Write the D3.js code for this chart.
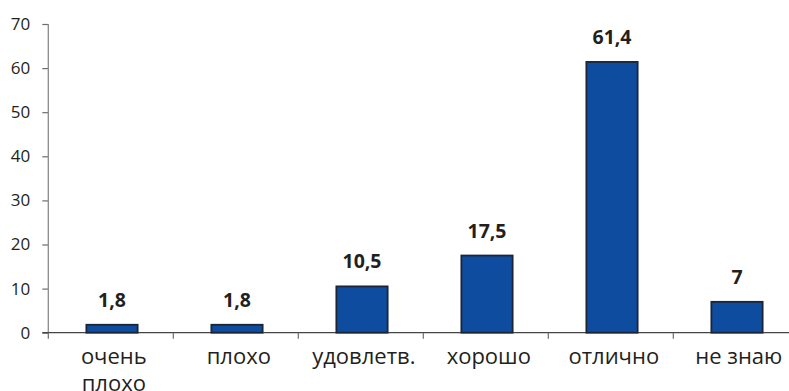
<!DOCTYPE html>
<html>
<head>
<meta charset="utf-8">
<script src="https://cdn.jsdelivr.net/npm/d3@7"></script>
<style>
  html, body { margin: 0; padding: 0; background: #fff; }
  svg { display: block; }
  text { font-family: "Open Sans", "Noto Sans", sans-serif; fill: #231f20; }
</style>
</head>
<body>
<svg id="chart" width="789" height="391"></svg>
<script>
// Survey answers and their shares, %
const categories = ["очень плохо", "плохо", "удовлетв.", "хорошо", "отлично", "не знаю"];
const values = [1.8, 1.8, 10.5, 17.5, 61.4, 7];
const valueLabels = ["1,8", "1,8", "10,5", "17,5", "61,4", "7"];
const yTicks = [0, 10, 20, 30, 40, 50, 60, 70];

const svg = d3.select("#chart");
const plotLeft = 48.3, plotRight = 798.3, plotTop = 24, plotBottom = 332.7;

const x = d3.scaleBand().domain(categories).range([plotLeft, plotRight])
  .paddingInner(0.59).paddingOuter(0.295);
const y = d3.scaleLinear().domain([0, 70]).range([plotBottom, plotTop]);

// Y axis
const yAxis = svg.append("g").attr("transform", `translate(${plotLeft},0)`)
  .call(d3.axisLeft(y).tickValues(yTicks).tickSize(6).tickPadding(12).tickFormat(d3.format("d")));
yAxis.select(".domain").remove();
yAxis.append("line").attr("x1", 0).attr("x2", 0).attr("y1", plotTop).attr("y2", plotBottom)
  .attr("stroke", "#8a8a8a").attr("stroke-width", 1.3);
yAxis.selectAll(".tick line").attr("stroke", "#6d6d6d").attr("stroke-width", 1.2);
yAxis.selectAll(".tick text").attr("font-size", 17).attr("fill", "#231f20");

// X axis baseline and category separators
const xg = svg.append("g");
xg.append("line").attr("x1", plotLeft - 6).attr("x2", 789).attr("y1", plotBottom).attr("y2", plotBottom)
  .attr("stroke", "#444").attr("stroke-width", 1.3);
const bounds = categories.map(c => x(c) - x.step() * x.paddingInner() / 2);
bounds.push(plotRight);
xg.selectAll("line.sep").data(bounds).join("line").attr("class", "sep")
  .attr("x1", d => d).attr("x2", d => d).attr("y1", plotBottom).attr("y2", plotBottom + 6)
  .attr("stroke", "#6d6d6d").attr("stroke-width", 1.2);

// Category labels, "очень плохо" on two lines
const catText = xg.selectAll("text.cat").data(categories).join("text").attr("class", "cat")
  .attr("text-anchor", "middle").attr("font-size", 22)
  .attr("x", d => x(d) + x.bandwidth() / 2 + 3).attr("y", 363.5);
catText.each(function(d) {
  const parts = d === "очень плохо" ? ["очень", "плохо"] : [d];
  const t = d3.select(this);
  parts.forEach((p, i) => {
    t.append("tspan").attr("x", x(d) + x.bandwidth() / 2 + 3).attr("dy", i === 0 ? 0 : 27).text(p);
  });
});

// Bars
const bars = svg.append("g").attr("transform", "translate(1.2,0)");
bars.selectAll("rect.bar").data(values).join("rect").attr("class", "bar")
  .attr("x", (d, i) => x(categories[i]))
  .attr("width", x.bandwidth())
  .attr("y", d => y(d))
  .attr("height", d => plotBottom - y(d))
  .attr("fill", "#0e4ca0").attr("stroke", "#1c2535").attr("stroke-width", 1.8);

// Value labels
bars.selectAll("text.val").data(values).join("text").attr("class", "val")
  .attr("text-anchor", "middle").attr("font-size", 19.5).attr("font-weight", "bold")
  .attr("x", (d, i) => x(categories[i]) + x.bandwidth() / 2)
  .attr("y", d => y(d) - 18)
  .text((d, i) => valueLabels[i]);
</script>
</body>
</html>
